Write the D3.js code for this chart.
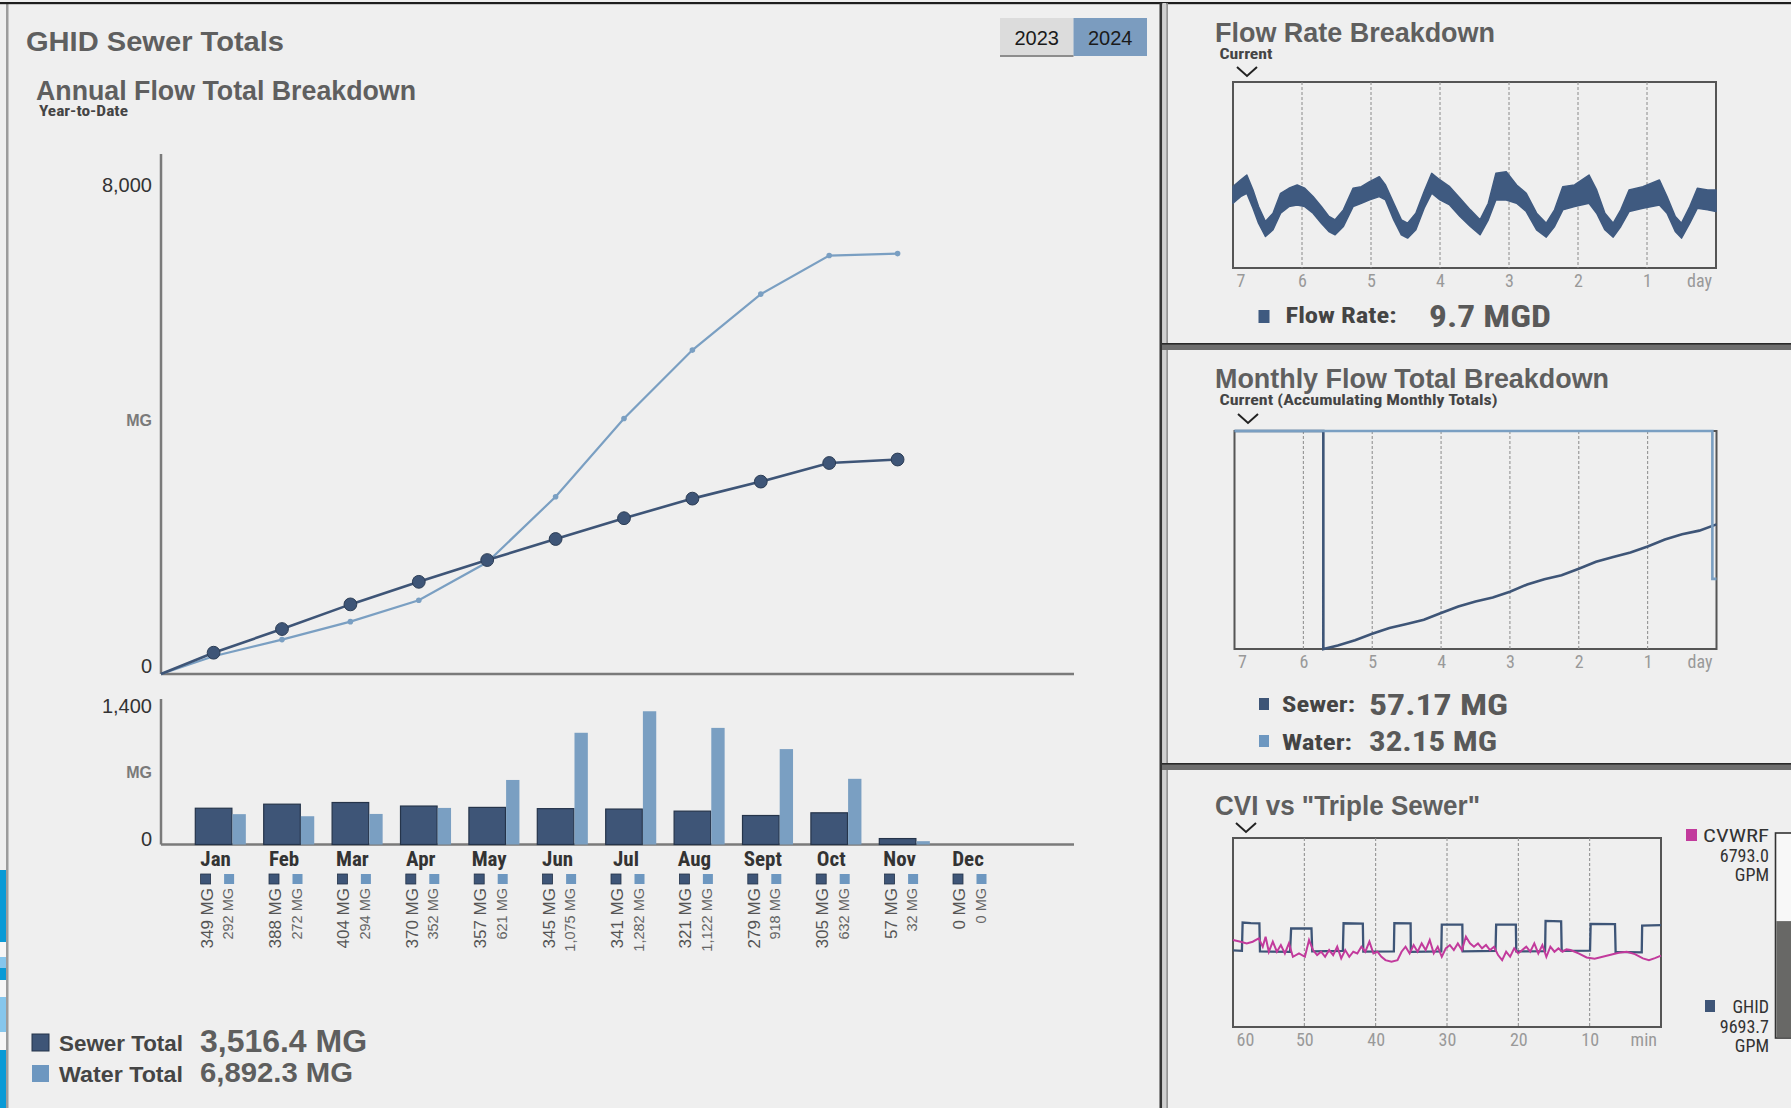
<!DOCTYPE html>
<html><head><meta charset="utf-8">
<script src="https://cdn.jsdelivr.net/npm/d3@7"></script>
<style>
html,body{margin:0;padding:0;background:#efefef;overflow:hidden;}
svg{display:block;}
</style></head><body>
<svg id="c" width="1791" height="1108"></svg>
<script>
// ================= DATA =================
const years = ["2023", "2024"];
const selectedYear = "2024";
const months = ["Jan","Feb","Mar","Apr","May","Jun","Jul","Aug","Sept","Oct","Nov","Dec"];
const sewerMonthly = [349,388,404,370,357,345,341,321,279,305,57,0];
const waterMonthly = [292,272,294,352,621,1075,1282,1122,918,632,32,0];
const monthsReported = 11;
const annualTicks = [0, 8000];
const barTicks = [0, 1400];
const sewerTotalText = "3,516.4 MG";
const waterTotalText = "6,892.3 MG";

// Flow rate (last 7 days, MGD) : days ago, envelope high, envelope low
const flowDays = [7.00,6.89,6.80,6.71,6.63,6.53,6.42,6.31,6.19,6.07,5.96,5.84,5.72,5.61,5.52,5.40,5.26,5.14,5.02,4.88,4.79,4.67,4.56,4.47,4.35,4.23,4.12,4.00,3.86,3.71,3.56,3.42,3.30,3.19,3.04,2.89,2.75,2.60,2.46,2.34,2.22,2.05,1.84,1.73,1.61,1.49,1.38,1.26,1.06,0.82,0.71,0.59,0.50,0.38,0.27,0.12,0.00];
const flowHi = [12.25,13.25,14.0,11.75,9.25,7.0,8.25,11.25,12.0,12.5,12.0,10.75,9.25,7.75,7.25,8.75,12.0,12.25,13.0,13.75,12.5,9.75,7.25,6.75,8.25,11.5,14.25,13.25,12.25,10.5,8.75,7.25,9.75,14.25,14.5,12.5,11.25,8.25,6.75,8.75,12.25,12.5,14.0,11.75,8.25,6.75,8.75,11.75,12.25,13.25,10.75,7.75,6.75,9.25,12.0,11.75,11.75];
const flowLo = [9.75,10.75,11.25,9.0,6.75,4.75,5.75,8.25,9.25,9.5,9.25,8.25,6.75,5.5,5.0,6.25,9.25,9.75,10.25,10.75,10.25,7.25,5.0,4.5,5.75,9.0,11.25,10.25,9.5,7.75,6.25,5.0,7.25,10.25,10.25,9.75,8.5,5.75,4.65,6.25,8.75,9.25,9.75,8.25,5.75,4.65,6.25,8.5,9.0,9.5,8.25,5.5,4.5,6.75,9.0,8.75,8.5];
const flowDomain = [0, 28];
const dayTicks = [7,6,5,4,3,2,1];
const flowRateText = "9.7 MGD";

// Monthly accumulating totals (MG): days ago, value
const monSewerDays = [7.0,5.71,5.71,5.5,5.25,5.0,4.75,4.5,4.25,4.0,3.75,3.5,3.25,3.0,2.75,2.5,2.25,2.0,1.75,1.5,1.25,1.0,0.75,0.5,0.25,0.0];
const monSewerVals = [305,305,0,1.6,4.0,7.0,9.6,11.5,13.4,16.5,19.5,21.8,23.6,26.3,29.6,32.0,33.8,36.8,40.0,42.2,44.3,47.0,50.2,52.6,54.3,57.17];
const monWaterDays = [7.0,0.06,0.06,0.0];
const monWaterVals = [632,632,32.15,32.15];
const monDomain = [0, 100];
const monSewerText = "57.17 MG";
const monWaterText = "32.15 MG";

// CVI vs Triple Sewer (last 60 min, GPM)
const ghidMin = [60,58.75,58.65,57.5,56.3,56.22,52.0,51.85,49.0,48.89,44.6,44.5,41.8,41.73,37.45,37.38,35.1,35.07,30.8,30.73,27.85,27.8,23.2,23.11,20.35,20.29,16.25,16.18,14.0,13.92,9.95,9.86,6.45,6.36,2.7,2.64,0];
const ghidGpm = [7300,7250,9950,9900,9880,7200,7150,9400,9380,7200,7250,9880,9850,7180,7200,9880,9860,7150,7200,9750,9750,7200,7250,9750,9750,7200,7230,10100,10050,7250,7280,9820,9800,7150,7100,9660,9693.7];
const cvMin = [60.0,58.93,58.08,57.24,56.39,55.83,55.43,54.98,54.42,53.85,53.29,52.73,52.16,51.60,50.75,49.92,49.34,48.78,48.21,47.65,47.09,46.52,45.96,45.39,44.83,44.27,43.70,43.14,42.57,42.01,41.45,40.88,40.32,39.76,39.19,38.63,37.78,36.94,36.37,35.81,35.24,34.68,34.12,33.55,32.99,32.42,31.86,31.30,30.73,30.17,29.60,29.04,28.48,27.91,27.35,26.78,26.22,25.66,25.09,24.53,23.97,23.40,22.84,22.27,21.71,21.15,20.58,20.02,19.45,18.89,18.33,17.76,17.20,16.63,16.07,15.51,14.94,14.38,13.81,13.25,12.69,11.56,10.43,9.30,8.18,7.05,5.92,4.79,3.66,2.54,1.69,0.85,0.0];
const cvGpm = [8283,8124,7965,8124,8442,7646,8602,7168,8124,7168,7805,7009,7965,6690,7009,6690,8283,7327,6849,7168,6690,7327,6849,7646,6531,7327,6690,7168,7009,7646,7168,8124,7009,7168,6690,6372,6212,6372,7168,7646,7009,7805,7168,7965,7327,8283,7009,7646,6690,7487,7805,7327,7965,7327,8602,7965,7646,7965,7487,7805,7327,7646,6849,6372,7168,6690,7487,7009,7327,7646,7168,7965,7009,7805,6690,7646,7168,7487,7168,7391,7327,7009,6626,6499,6690,6881,7072,7168,6945,6531,6372,6563,6793];
const cviDomain = [0, 18000];
const minTicks = [60,50,40,30,20,10];
const cvwrfText = ["CVWRF","6793.0","GPM"];
const ghidText = ["GHID","9693.7","GPM"];
const gaugeDomain = [0, 17000];
const gaugeValue = 9693.7;

// ================= STYLE =================
const F = "'Liberation Sans', Arial, sans-serif";
const FN = "'Liberation Sans Narrow','Roboto Condensed','Liberation Sans',Arial,sans-serif";
const C_SEWER = "#3e5577", C_WATER = "#7a9fc2", C_CV = "#c23a9c", C_FLOW = "#3f5a80";
const TITLE = "#5f5f5f";

const svg = d3.select("#c");
svg.append("rect").attr("width",1791).attr("height",1108).attr("fill","#efefef");

function txt(g, x, y, s, o) {
  o = o || {};
  const t = g.append("text").attr("x", x).attr("y", y).text(s)
    .attr("font-family", o.family || F).attr("font-size", o.size || 16)
    .attr("font-weight", o.weight || "normal").attr("fill", o.fill || "#333")
    .attr("text-anchor", o.anchor || "start");
  if (o.len) t.attr("textLength", o.len).attr("lengthAdjust", "spacingAndGlyphs");
  return t;
}

// ================= FRAME =================
const edge = [[870,942,"#0a9ad6"],[942,957,"#f6f6f6"],[957,968,"#86c6ec"],[968,980,"#0a9ad6"],[980,997,"#f6f6f6"],[997,1032,"#86c6ec"],[1032,1050,"#f6f6f6"],[1050,1108,"#0a9ad6"]];
edge.forEach(e => svg.append("rect").attr("x",0).attr("y",e[0]).attr("width",6).attr("height",e[1]-e[0]).attr("fill",e[2]));
svg.append("rect").attr("x",6).attr("y",3).attr("width",2.5).attr("height",1105).attr("fill","#9c9c9c");
svg.append("rect").attr("x",0).attr("y",2).attr("width",1791).attr("height",2.2).attr("fill","#1e1e1e");
svg.append("rect").attr("x",1159.5).attr("y",3).attr("width",2.8).attr("height",1105).attr("fill","#333");
svg.append("rect").attr("x",1162.3).attr("y",3).attr("width",4).attr("height",1105).attr("fill","#cfcfcf");
svg.append("rect").attr("x",1166.3).attr("y",3).attr("width",1.6).attr("height",1105).attr("fill","#8a8a8a");
[343, 763].forEach(y0 => {
  svg.append("rect").attr("x",1162).attr("y",y0).attr("width",629).attr("height",7).attr("fill","#6e6e6e");
  svg.append("rect").attr("x",1162).attr("y",y0).attr("width",629).attr("height",1.6).attr("fill","#2a2a2a");
});

// ================= LEFT PANEL =================
const L = svg.append("g");
txt(L, 26, 51, "GHID Sewer Totals", {size:27, weight:"bold", fill:TITLE, len:258});
txt(L, 36, 100, "Annual Flow Total Breakdown", {size:27, weight:"bold", fill:TITLE, len:380});
txt(L, 39, 116, "Year-to-Date", {size:14, weight:"bold", fill:"#444", len:89, family:FN});

const btn = svg.append("g");
const btnX = d3.scaleBand().domain(years).range([1000, 1147]);
btn.selectAll("rect.b").data(years).join("rect").attr("class","b")
  .attr("x", d => btnX(d)).attr("y", 18).attr("width", btnX.bandwidth()).attr("height", 38)
  .attr("fill", d => d === selectedYear ? "#7b9cbf" : "#dcdcdc");
btn.append("rect").attr("x",1000).attr("y",55).attr("width",btnX.bandwidth()).attr("height",2).attr("fill","#8d8d8d");
btn.selectAll("text").data(years).join("text")
  .attr("x", d => btnX(d) + btnX.bandwidth()/2).attr("y", 45).attr("text-anchor","middle")
  .attr("font-family", F).attr("font-size", 20).attr("fill", "#1a1a1a").text(d => d);

const xBand = d3.scaleBand().domain(months).range([179.4, 1000.2]);
const bw = xBand.bandwidth();
const cx = m => xBand(m) + bw / 2;
const yLine = d3.scaleLinear().domain([0, 8000]).range([674, 186]);
const yBar = d3.scaleLinear().domain([0, 1400]).range([844.5, 699]);
const axisX0 = 161, axisX1 = 1074;

const AX = "#7a7a7a";
L.append("line").attr("x1",axisX0).attr("x2",axisX0).attr("y1",154).attr("y2",yLine(0)).attr("stroke",AX).attr("stroke-width",2.5);
L.append("line").attr("x1",axisX0).attr("x2",axisX1).attr("y1",yLine(0)).attr("y2",yLine(0)).attr("stroke",AX).attr("stroke-width",2.5);
L.append("line").attr("x1",axisX0).attr("x2",axisX0).attr("y1",699).attr("y2",yBar(0)).attr("stroke",AX).attr("stroke-width",2.5);
L.append("line").attr("x1",axisX0).attr("x2",axisX1).attr("y1",yBar(0)).attr("y2",yBar(0)).attr("stroke",AX).attr("stroke-width",2.5);

function styleAxis(g) {
  g.select(".domain").remove();
  g.selectAll("text").attr("font-family", F).attr("font-size", 20).attr("fill", "#333");
}
L.append("g").attr("transform", `translate(${axisX0},0)`)
  .call(d3.axisLeft(yLine).tickValues(annualTicks).tickSize(0).tickPadding(9).tickFormat(d3.format(",")))
  .call(styleAxis)
  .selectAll("text").attr("dy", d => d === 0 ? "-0.1em" : "0.25em");
L.append("g").attr("transform", `translate(${axisX0},0)`)
  .call(d3.axisLeft(yBar).tickValues(barTicks).tickSize(0).tickPadding(9).tickFormat(d3.format(",")))
  .call(styleAxis)
  .selectAll("text").attr("dy", d => d === 0 ? "0.05em" : "0.65em");
txt(L, 152, yLine(4000) - 4, "MG", {size:16, weight:"bold", fill:"#7a7a7a", anchor:"end"});
txt(L, 152, 778, "MG", {size:16, weight:"bold", fill:"#7a7a7a", anchor:"end"});

const rep = months.slice(0, monthsReported);
const sewerCum = Array.from(d3.cumsum(sewerMonthly.slice(0, monthsReported)));
const waterCum = Array.from(d3.cumsum(waterMonthly.slice(0, monthsReported)));
const sewerPts = [{x: axisX0, v: 0}].concat(rep.map((m, i) => ({x: cx(m), v: sewerCum[i]})));
const waterPts = [{x: axisX0, v: 0}].concat(rep.map((m, i) => ({x: cx(m), v: waterCum[i]})));
const lineGen = d3.line().x(d => d.x).y(d => yLine(d.v));
L.append("path").attr("d", lineGen(waterPts)).attr("fill","none").attr("stroke",C_WATER).attr("stroke-width",2.2);
L.append("path").attr("d", lineGen(sewerPts)).attr("fill","none").attr("stroke",C_SEWER).attr("stroke-width",2.6);
L.selectAll("circle.w").data(waterPts.slice(1)).join("circle").attr("class","w")
  .attr("cx", d => d.x).attr("cy", d => yLine(d.v)).attr("r", 2.8).attr("fill", C_WATER);
L.selectAll("circle.s").data(sewerPts.slice(1)).join("circle").attr("class","s")
  .attr("cx", d => d.x).attr("cy", d => yLine(d.v)).attr("r", 6.4).attr("fill", C_SEWER).attr("stroke","#2c3d55").attr("stroke-width",1);

const sW = bw * 0.535, wW = bw * 0.195;
L.selectAll("rect.sb").data(months).join("rect").attr("class","sb")
  .attr("x", m => cx(m) - sW/2).attr("width", sW)
  .attr("y", (m, i) => yBar(sewerMonthly[i])).attr("height", (m, i) => yBar(0) - yBar(sewerMonthly[i]))
  .attr("fill", C_SEWER).attr("stroke", (m,i) => sewerMonthly[i] > 0 ? "#25344a" : "none").attr("stroke-width", 1.2);
L.selectAll("rect.wb").data(months).join("rect").attr("class","wb")
  .attr("x", m => cx(m) + sW/2 + 0.6).attr("width", wW)
  .attr("y", (m, i) => yBar(waterMonthly[i])).attr("height", (m, i) => yBar(0) - yBar(waterMonthly[i]))
  .attr("fill", C_WATER);

const mAxis = L.append("g").attr("transform", `translate(2,${yBar(0)})`)
  .call(d3.axisBottom(xBand).tickSize(0).tickPadding(7));
mAxis.select(".domain").remove();
mAxis.selectAll("text").attr("font-family", FN).attr("font-size", 21).attr("font-weight","bold").attr("fill","#333");

L.selectAll("rect.sq1").data(months).join("rect").attr("class","sq1")
  .attr("x", m => cx(m) - 13).attr("y", 874).attr("width", 10).attr("height", 10).attr("fill", C_SEWER).attr("stroke","#25344a").attr("stroke-width",0.8);
L.selectAll("rect.sq2").data(months).join("rect").attr("class","sq2")
  .attr("x", m => cx(m) + 10.5).attr("y", 874).attr("width", 10).attr("height", 10).attr("fill", "#6d97c0");

const fmt = d3.format(",");
L.selectAll("text.sv").data(months).join("text").attr("class","sv")
  .attr("transform", m => `translate(${cx(m) - 6.5},888) rotate(-90)`)
  .attr("text-anchor","end").attr("dominant-baseline","central")
  .attr("font-family", F).attr("font-size", 17).attr("fill", "#555")
  .text((m, i) => fmt(sewerMonthly[i]) + " MG");
L.selectAll("text.wv").data(months).join("text").attr("class","wv")
  .attr("transform", m => `translate(${cx(m) + 14.5},888) rotate(-90)`)
  .attr("text-anchor","end").attr("dominant-baseline","central")
  .attr("font-family", F).attr("font-size", 14.5).attr("fill", "#666")
  .text((m, i) => fmt(waterMonthly[i]) + " MG");

L.append("rect").attr("x",32).attr("y",1034).attr("width",17).attr("height",17).attr("fill",C_SEWER).attr("stroke","#25344a");
L.append("rect").attr("x",32).attr("y",1065).attr("width",17).attr("height",17).attr("fill","#6d97c0");
txt(L, 59, 1051, "Sewer Total", {size:22, weight:"bold", fill:"#454545", len:124});
txt(L, 59, 1082, "Water Total", {size:22, weight:"bold", fill:"#454545", len:124});
txt(L, 200, 1052, sewerTotalText, {size:31, fill:"#5e5e5e", len:167, weight:"bold"});
txt(L, 200, 1082, waterTotalText, {size:28, fill:"#5e5e5e", len:153, weight:"bold"});

// ================= RIGHT PANELS =================
function chevron(g, x, y) {
  g.append("path").attr("d", `M${x-10},${y} L${x},${y+9} L${x+10},${y}`)
    .attr("fill","none").attr("stroke","#222").attr("stroke-width",2);
}
function timeBox(g, x, y, gridVals, tickVals, unit) {
  const [x0, x1] = x.range();
  const [yb, yt] = y.range();
  g.append("rect").attr("x", x0).attr("y", yt).attr("width", x1 - x0).attr("height", yb - yt)
    .attr("fill", "none").attr("stroke", "#555").attr("stroke-width", 2);
  g.selectAll("line.grid").data(gridVals).join("line").attr("class","grid")
    .attr("x1", d => x(d)).attr("x2", d => x(d)).attr("y1", yt).attr("y2", yb)
    .attr("stroke", "#8a8a8a").attr("stroke-width", 1).attr("stroke-dasharray", "3,2");
  const ax = g.append("g").attr("transform", `translate(0,${yb})`)
    .call(d3.axisBottom(x).tickValues(tickVals).tickSize(0).tickPadding(6).tickFormat(d3.format("d")));
  ax.select(".domain").remove();
  ax.selectAll("text").attr("font-family", FN).attr("font-size", 18).attr("fill", "#999")
    .attr("text-anchor", (d, i) => i === 0 ? "start" : "middle")
    .attr("dx", (d, i) => i === 0 ? 3 : 0);
  txt(g, x1 - 4, yb + 19, unit, {size:18, fill:"#999", anchor:"end", family:FN});
}

// ---- Flow Rate Breakdown ----
const P1 = svg.append("g");
txt(P1, 1215, 41.5, "Flow Rate Breakdown", {size:28, weight:"bold", fill:TITLE, len:280});
txt(P1, 1219.5, 59, "Current", {size:15, weight:"bold", fill:"#444", len:53, family:FN});
chevron(P1, 1247, 67);
const xF = d3.scaleLinear().domain([7, 0]).range([1233, 1716]);
const yF = d3.scaleLinear().domain(flowDomain).range([268, 82]);
timeBox(P1, xF, yF, [6,5,4,3,2,1], dayTicks, "day");
const flowData = flowDays.map((d, i) => [d, flowLo[i], flowHi[i]]);
P1.append("path").attr("d", d3.area().x(d => xF(d[0])).y0(d => yF(d[1])).y1(d => yF(d[2]))(flowData))
  .attr("fill", C_FLOW).attr("stroke", C_FLOW).attr("stroke-width", 1.5).attr("stroke-linejoin","round");
P1.append("rect").attr("x",1258.5).attr("y",310).attr("width",11).attr("height",13).attr("fill",C_FLOW);
txt(P1, 1285.5, 323, "Flow Rate:", {size:22, weight:"bold", fill:"#444", len:111, family:FN});
txt(P1, 1429, 327, flowRateText, {size:32, fill:"#595959", len:122, family:FN, weight:"bold"});

// ---- Monthly Flow Total Breakdown ----
const P2 = svg.append("g");
txt(P2, 1215, 388, "Monthly Flow Total Breakdown", {size:28, weight:"bold", fill:TITLE, len:394});
txt(P2, 1219.5, 405, "Current (Accumulating Monthly Totals)", {size:15, weight:"bold", fill:"#444", len:278, family:FN});
chevron(P2, 1248, 414);
const xM = d3.scaleLinear().domain([7, 0]).range([1234.5, 1716.5]);
const yM = d3.scaleLinear().domain(monDomain).range([649, 431]).clamp(true);
timeBox(P2, xM, yM, [6,5,4,3,2,1], dayTicks, "day");
const lm = d3.line().x(d => xM(d[0])).y(d => yM(d[1]));
P2.append("path").attr("d", lm(monSewerDays.map((d, i) => [d, monSewerVals[i]])))
  .attr("fill","none").attr("stroke",C_SEWER).attr("stroke-width",2.6);
P2.append("path").attr("d", lm(monWaterDays.map((d, i) => [d, monWaterVals[i]])))
  .attr("fill","none").attr("stroke",C_WATER).attr("stroke-width",2.6);
P2.append("rect").attr("x",1259).attr("y",698).attr("width",10).attr("height",12).attr("fill",C_SEWER);
P2.append("rect").attr("x",1259).attr("y",735).attr("width",10).attr("height",12).attr("fill","#6d97c0");
txt(P2, 1282, 712, "Sewer:", {size:22, weight:"bold", fill:"#444", len:73, family:FN});
txt(P2, 1282, 750, "Water:", {size:22, weight:"bold", fill:"#444", len:70, family:FN});
txt(P2, 1369, 715, monSewerText, {size:30, fill:"#595959", len:139, family:FN, weight:"bold"});
txt(P2, 1369, 751, monWaterText, {size:28, fill:"#595959", len:128, family:FN, weight:"bold"});

// ---- CVI vs "Triple Sewer" ----
const P3 = svg.append("g");
txt(P3, 1215, 815, "CVI vs \"Triple Sewer\"", {size:28, weight:"bold", fill:TITLE, len:265});
chevron(P3, 1246, 823);
const xC = d3.scaleLinear().domain([60, 0]).range([1233, 1661]);
const yC = d3.scaleLinear().domain(cviDomain).range([1027, 838]);
timeBox(P3, xC, yC, [50,40,30,20,10], minTicks, "min");
const lc = d3.line().x(d => xC(d[0])).y(d => yC(d[1]));
P3.append("path").attr("d", lc(ghidMin.map((d, i) => [d, ghidGpm[i]])))
  .attr("fill","none").attr("stroke",C_SEWER).attr("stroke-width",2.3);
P3.append("path").attr("d", lc(cvMin.map((d, i) => [d, cvGpm[i]])))
  .attr("fill","none").attr("stroke",C_CV).attr("stroke-width",2);

P3.append("rect").attr("x",1686).attr("y",829).attr("width",11).attr("height",12).attr("fill",C_CV);
P3.append("rect").attr("x",1705).attr("y",1000).attr("width",10).attr("height",12).attr("fill",C_SEWER);
cvwrfText.forEach((s, i) => txt(P3, 1769, 842 + i*19.5, s, {size:18, fill:"#333", anchor:"end", family:FN, len: i === 0 ? 66 : null}));
ghidText.forEach((s, i) => txt(P3, 1769, 1013 + i*19.5, s, {size:18, fill:"#333", anchor:"end", family:FN}));

const yG = d3.scaleLinear().domain(gaugeDomain).range([1038, 833]);
P3.append("rect").attr("x",1775.5).attr("y",yG(gaugeDomain[1])).attr("width",30).attr("height",yG(0)-yG(gaugeDomain[1]))
  .attr("fill","#f8f8f8").attr("stroke","#333").attr("stroke-width",1.6);
P3.append("rect").attr("x",1776.3).attr("y",yG(gaugeValue)).attr("width",30).attr("height",yG(0)-yG(gaugeValue)-0.8)
  .attr("fill","#686866");
</script>
</body></html>
